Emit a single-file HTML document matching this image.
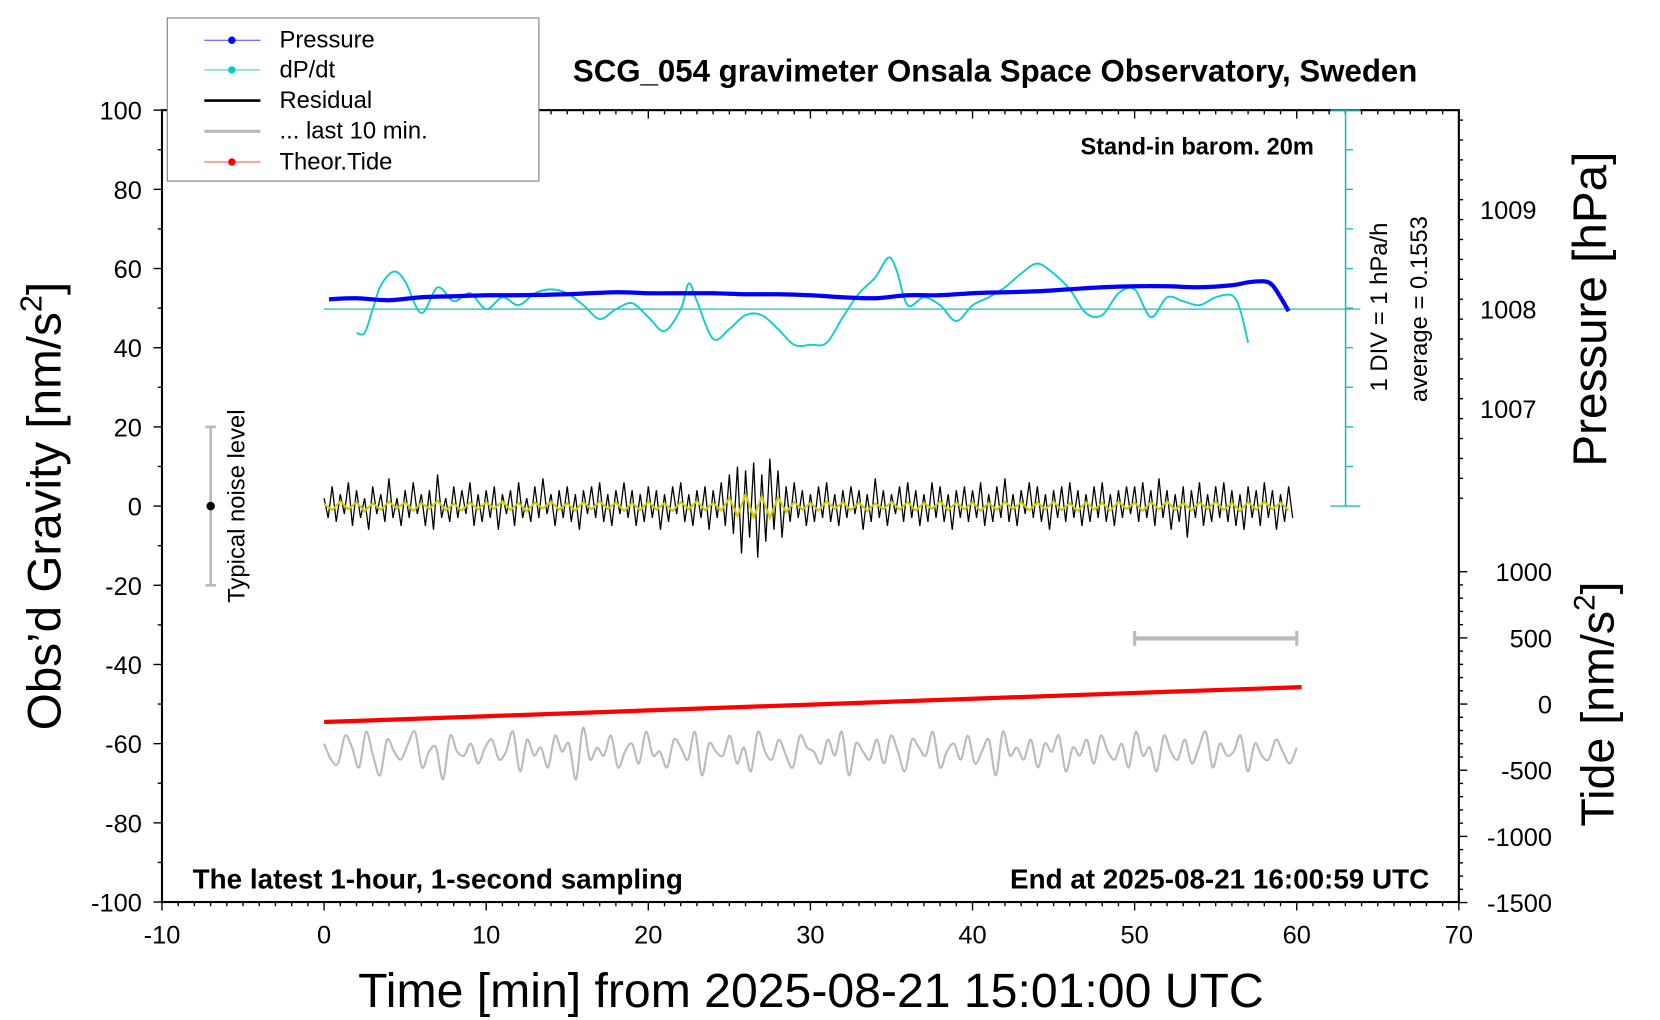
<!DOCTYPE html>
<html><head><meta charset="utf-8"><style>
html,body{margin:0;padding:0;background:#fff;}
svg{display:block;font-family:"Liberation Sans",sans-serif;}
</style></head><body>
<svg id="chart" width="1660" height="1020" viewBox="0 0 1568 963.4" xmlns="http://www.w3.org/2000/svg">
<rect width="1568" height="964" fill="#fff"/>
<g id="grid"></g>
<text x="940" y="77" font-size="29.5" font-weight="bold" text-anchor="middle">SCG_054 gravimeter Onsala Space Observatory, Sweden</text>
<text x="1241" y="146" font-size="22.3" font-weight="bold" text-anchor="end">Stand-in barom. 20m</text>
<text transform="translate(1310,290) rotate(-90)" font-size="22.5" text-anchor="middle">1 DIV = 1 hPa/h</text>
<text transform="translate(1348,292) rotate(-90)" font-size="22.5" text-anchor="middle">average = 0.1553</text>
<text transform="translate(231,478) rotate(-90)" font-size="22.5" text-anchor="middle">Typical noise level</text>
<text x="182" y="839" font-size="26.3" font-weight="bold">The latest 1-hour, 1-second sampling</text>
<text x="1350" y="839" font-size="26.3" font-weight="bold" text-anchor="end">End at 2025-08-21 16:00:59 UTC</text>
<text x="766" y="951" font-size="45.5" text-anchor="middle">Time [min] from 2025-08-21 15:01:00 UTC</text>
<text transform="translate(57,478) rotate(-90)" font-size="45" text-anchor="middle">Obs’d Gravity [nm/s<tspan font-size="29" dy="-18">2</tspan><tspan dy="18">]</tspan></text>
<text transform="translate(1517,292) rotate(-90)" font-size="45" text-anchor="middle">Pressure [hPa]</text>
<text transform="translate(1524,665) rotate(-90)" font-size="44" text-anchor="middle">Tide [nm/s<tspan font-size="28" dy="-18">2</tspan><tspan dy="18">]</tspan></text>
<g id="marks"></g>
<g id="legend">
<rect x="158" y="17" width="351" height="154" fill="#fff" stroke="#777" stroke-width="1"/>
<line x1="193" y1="38" x2="246" y2="38" stroke="#44f" stroke-width="1"/><circle cx="219" cy="38" r="3.5" fill="#00f"/>
<text x="264" y="45" font-size="22.5">Pressure</text>
<line x1="193" y1="66" x2="246" y2="66" stroke="#4cc" stroke-width="1"/><circle cx="219" cy="66" r="3.5" fill="#0cc"/>
<text x="264" y="73" font-size="22.5">dP/dt</text>
<line x1="193" y1="95" x2="246" y2="95" stroke="#000" stroke-width="2.5"/>
<text x="264" y="102" font-size="22.5">Residual</text>
<line x1="193" y1="124" x2="246" y2="124" stroke="#bbb" stroke-width="3"/>
<text x="264" y="131" font-size="22.5">... last 10 min.</text>
<line x1="193" y1="153" x2="246" y2="153" stroke="#f44" stroke-width="1"/><circle cx="219" cy="153" r="3.5" fill="#f00"/>
<text x="264" y="160" font-size="22.5">Theor.Tide</text>
</g>
</svg>
<script>
const xTicks=[-10,0,10,20,30,40,50,60,70];
const yTicks=[100,80,60,40,20,0,-20,-40,-60,-80,-100];
const pTicks=[1007,1008,1009];
const tideTicks=[1000,500,0,-500,-1000,-1500];
const pressT=[0.3,2,4,6,8,10,12,15,18,20,22,24,26,28,30,32,34,36,38,40,42,44,46,48,50,52,54,56,57,58,58.5,59,59.5];
const pressV=[1008.10,1008.11,1008.09,1008.12,1008.13,1008.14,1008.14,1008.15,1008.17,1008.16,1008.16,1008.16,1008.15,1008.15,1008.14,1008.12,1008.11,1008.14,1008.14,1008.16,1008.17,1008.18,1008.20,1008.22,1008.23,1008.23,1008.22,1008.24,1008.27,1008.28,1008.24,1008.12,1007.98];
const dpT=[2,2.5,3,3.5,4.3,5,6,7,8,9,10,11,12,13,14,15,16,17,18,19,20,21,22,22.5,23,24,25,26,27,28,29,30,31,32,33,34,34.8,35.3,36,37,38,39,40,41,42,43,44,45,46,47,48,49,50,51,52,53,54,55,56,56.5,57];
const dpV=[-0.6,-0.6,0,0.6,0.95,0.7,-0.1,0.55,0.2,0.4,0,0.3,0.1,0.4,0.5,0.4,0.1,-0.25,0,0.15,-0.2,-0.55,0,0.65,0.2,-0.75,-0.5,-0.15,-0.15,-0.5,-0.9,-0.9,-0.85,-0.2,0.4,0.8,1.3,1.0,0.1,0.3,0.1,-0.3,0.1,0.3,0.55,0.9,1.15,0.9,0.5,-0.1,-0.15,0.4,0.5,-0.2,0.3,0.2,0.1,0.3,0.35,0,-0.85];
const resV=[2,-3,5,-4,3,-2,6,-5,4,-3,2,-6,5,-2,3,-4,7,-3,2,-5,4,-3,6,-2,3,-5,4,-6,8,-3,2,-4,5,-3,4,-2,6,-5,3,-4,
4,-3,5,-6,3,-2,4,-5,6,-3,2,-4,5,-3,7,-2,3,-5,4,-3,5,-4,3,-6,4,-2,5,-3,6,-4,3,-5,4,-2,6,-3,4,-5,3,-4,
5,-3,4,-6,3,-4,5,-2,6,-4,3,-5,4,-3,5,-6,4,-3,6,-5,8,-7,10,-12,9,-8,11,-13,8,-9,12,-6,9,-8,5,-4,6,-3,4,-5,
3,-4,5,-3,6,-4,3,-5,4,-3,5,-2,4,-6,3,-4,7,-3,4,-5,3,-2,5,-4,6,-3,4,-5,3,-4,6,-3,5,-4,3,-6,4,-3,5,-4,
4,-3,6,-5,3,-4,5,-3,7,-4,3,-5,4,-2,6,-3,5,-4,3,-6,4,-3,5,-4,6,-3,4,-5,3,-4,5,-3,6,-4,3,-5,4,-3,5,-2,
5,-4,6,-3,4,-5,7,-3,4,-6,3,-4,5,-8,4,-3,6,-5,3,-4,5,-3,6,-4,4,-5,3,-6,5,-3,4,-5,6,-3,4,-6,3,-4,5,-3];
const yelV=[0.5,-1,1.2,-0.8,1,-1.3,0.7,-0.9,1.1,-0.6,1,-1.2,0.8,-0.7,1.3,-1,0.6,-1.1,0.9,-0.8,
1,-0.7,1.2,-1,0.8,-1.3,0.9,-0.6,1.1,-0.9,0.7,-1.1,1,-0.8,1.2,-0.7,0.9,-1.2,0.8,-1,
1.1,-0.9,0.7,-1.2,1,-0.8,1.3,-1,0.8,-1.1,2,-2.5,3,-2.8,2.5,-3,2.2,-1.5,1,-0.9,
0.8,-1.1,1.2,-0.7,1,-1,0.9,-1.2,0.7,-0.8,1.1,-0.9,1,-1.1,0.8,-0.7,1.2,-1,0.9,-0.8,
1,-1.2,0.8,-0.9,1.1,-0.7,1,-1.1,0.9,-0.8,1.2,-1,0.7,-1.2,1,-0.9,0.8,-1.1,1.1,-0.7,
0.9,-1.2,1,-0.8,1.2,-1,0.8,-1.1,0.9,-0.7,1.1,-1,0.8,-1.2,1,-0.9,1.1,-0.8,0.9,-1];
const lastV=[-60,-64,-65,-58,-61,-66,-57,-63,-68,-59,-62,-64,-60,-57,-66,-62,-61,-69,-58,-62,-63,-60,-65,-61,-59,-64,-62,-57,-67,-59,-63,-61,-66,-58,-62,-60,-69,-56,-64,-61,
-63,-58,-66,-62,-60,-65,-57,-63,-62,-66,-59,-61,-64,-57,-68,-60,-62,-63,-58,-65,-61,-67,-57,-62,-64,-59,-63,-66,-58,-61,-62,-65,-59,-63,-57,-68,-60,-62,-64,-59,
-65,-58,-62,-67,-59,-61,-63,-57,-66,-62,-60,-64,-58,-65,-62,-59,-68,-57,-63,-61,-64,-59,-66,-60,-62,-58,-67,-61,-63,-59,-65,-58,-62,-64,-60,-66,-57,-63,-61,-67,
-58,-62,-64,-59,-65,-61,-57,-66,-60,-63,-62,-58,-67,-60,-63,-64,-59,-62,-65,-61];
const tideT=[0,10,20,30,40,50,60.3];
const tideV=[-136,-92,-48,-4,40,84,128];

const X0=153,X1=1378,Y0=104,Y1=852;
const sx=t=>X0+(t+10)*(X1-X0)/80;
const sy=g=>478-g*3.74;
const sp=p=>292-(p-1008)*94;
const sd=v=>292-v*37.4;
const st=v=>665-v*0.125;
const NS='http://www.w3.org/2000/svg';
const G=document.getElementById('grid'), M=document.getElementById('marks');
function mk(tag,at,par){const e=document.createElementNS(NS,tag);for(const k in at)e.setAttribute(k,at[k]);(par||M).appendChild(e);return e;}
function smooth(px){let d='M'+px[0][0]+','+px[0][1];for(let i=0;i<px.length-1;i++){const p0=px[Math.max(i-1,0)],p1=px[i],p2=px[i+1],p3=px[Math.min(i+2,px.length-1)];d+=` C${p1[0]+(p2[0]-p0[0])/6},${p1[1]+(p2[1]-p0[1])/6} ${p2[0]-(p3[0]-p1[0])/6},${p2[1]-(p3[1]-p1[1])/6} ${p2[0]},${p2[1]}`;}return d;}

let fr=mk('rect',{x:X0,y:Y0,width:X1-X0,height:Y1-Y0,fill:'none',stroke:'#000','stroke-width':2},G);


for(let t=-10;t<=70;t++){const x=sx(t),maj=t%10===0;
 mk('line',{x1:x,y1:Y1,x2:x,y2:Y1+(maj?8:4),stroke:'#000','stroke-width':1.3},G);
 mk('line',{x1:x,y1:Y0,x2:x,y2:Y0+(maj?8:4),stroke:'#000','stroke-width':1.3},G);}
xTicks.forEach(t=>{const e=mk('text',{x:sx(t),y:Y1+39,'font-size':24,'text-anchor':'middle'},G);e.textContent=t;
 
 });
for(let g=-100;g<=100;g+=10){mk('line',{x1:X0,y1:sy(g),x2:X0-(g%20===0?8:4),y2:sy(g),stroke:'#000','stroke-width':1.3},G);}
yTicks.forEach(g=>{const e=mk('text',{x:X0-19,y:sy(g)+9,'font-size':24,'text-anchor':'end'},G);e.textContent=g;
 
 });
for(let p=1006.1;p<=1010.01;p+=0.2){const y=sp(p);if(y<Y0||y>478)continue;const maj=Math.abs(p-Math.round(p))<0.01;
 mk('line',{x1:X1,y1:y,x2:X1+(maj?8:4),y2:y,stroke:'#000','stroke-width':1.3},G);}
pTicks.forEach(p=>{const e=mk('text',{x:X1+20,y:sp(p)+9,'font-size':24},G);e.textContent=p;
 
 });
for(let v=-1500;v<=1000;v+=100){mk('line',{x1:X1,y1:st(v),x2:X1+(v%500===0?8:4),y2:st(v),stroke:'#000','stroke-width':1.3},G);}
tideTicks.forEach(v=>{const e=mk('text',{x:X1+88,y:st(v)+9,'font-size':24,'text-anchor':'end'},G);e.textContent=v;
 
 });

const cx=1271;
mk('line',{x1:cx,y1:Y0,x2:cx,y2:478,stroke:'#2bb','stroke-width':1.5});
for(let i=0;i<=10;i++){const y=Y0+i*(478-Y0)/10;mk('line',{x1:cx,y1:y,x2:cx+(i===0||i===10?14:7),y2:y,stroke:'#2bb','stroke-width':1.3});}
mk('line',{x1:cx-14,y1:Y0,x2:cx,y2:Y0,stroke:'#2bb','stroke-width':1.3});
mk('line',{x1:cx-14,y1:478,x2:cx,y2:478,stroke:'#2bb','stroke-width':1.3});
let bl=mk('line',{x1:sx(0),y1:sd(0),x2:1285,y2:sd(0),stroke:'#2bb','stroke-width':1.2});



mk('line',{x1:199,y1:sy(20),x2:199,y2:sy(-20),stroke:'#bbb','stroke-width':2.5});
mk('line',{x1:194,y1:sy(20),x2:204,y2:sy(20),stroke:'#bbb','stroke-width':2.5});
mk('line',{x1:194,y1:sy(-20),x2:204,y2:sy(-20),stroke:'#bbb','stroke-width':2.5});
let nd=mk('circle',{cx:199,cy:sy(0),r:4,fill:'#000'});


mk('line',{x1:sx(50),y1:603,x2:sx(60),y2:603,stroke:'#bbb','stroke-width':4});
mk('line',{x1:sx(50),y1:596,x2:sx(50),y2:610,stroke:'#bbb','stroke-width':3});
mk('line',{x1:sx(60),y1:596,x2:sx(60),y2:610,stroke:'#bbb','stroke-width':3});

let dp=mk('path',{d:smooth(dpT.map((t,i)=>[sx(t),sd(dpV[i])])),fill:'none',stroke:'#1cc','stroke-width':1.8});


let pr=mk('path',{d:smooth(pressT.map((t,i)=>[sx(t),sp(pressV[i])])),fill:'none',stroke:'#00f','stroke-width':4});


let rs=mk('polyline',{points:resV.map((v,i)=>sx(i*60/resV.length)+','+sy(v)).join(' '),fill:'none',stroke:'#000','stroke-width':1.2});


let yl=mk('polyline',{points:yelV.map((v,i)=>sx(i*60/yelV.length)+','+sy(v)).join(' '),fill:'none',stroke:'#cc0','stroke-width':2});


let lt=mk('path',{d:smooth(lastV.map((v,i)=>[sx(i*60/(lastV.length-1)),sy(v)])),fill:'none',stroke:'#bbb','stroke-width':2});


let td=mk('polyline',{points:tideT.map((t,i)=>sx(t)+','+st(tideV[i])).join(' '),fill:'none',stroke:'#f00','stroke-width':4});


</script>
</body></html>
